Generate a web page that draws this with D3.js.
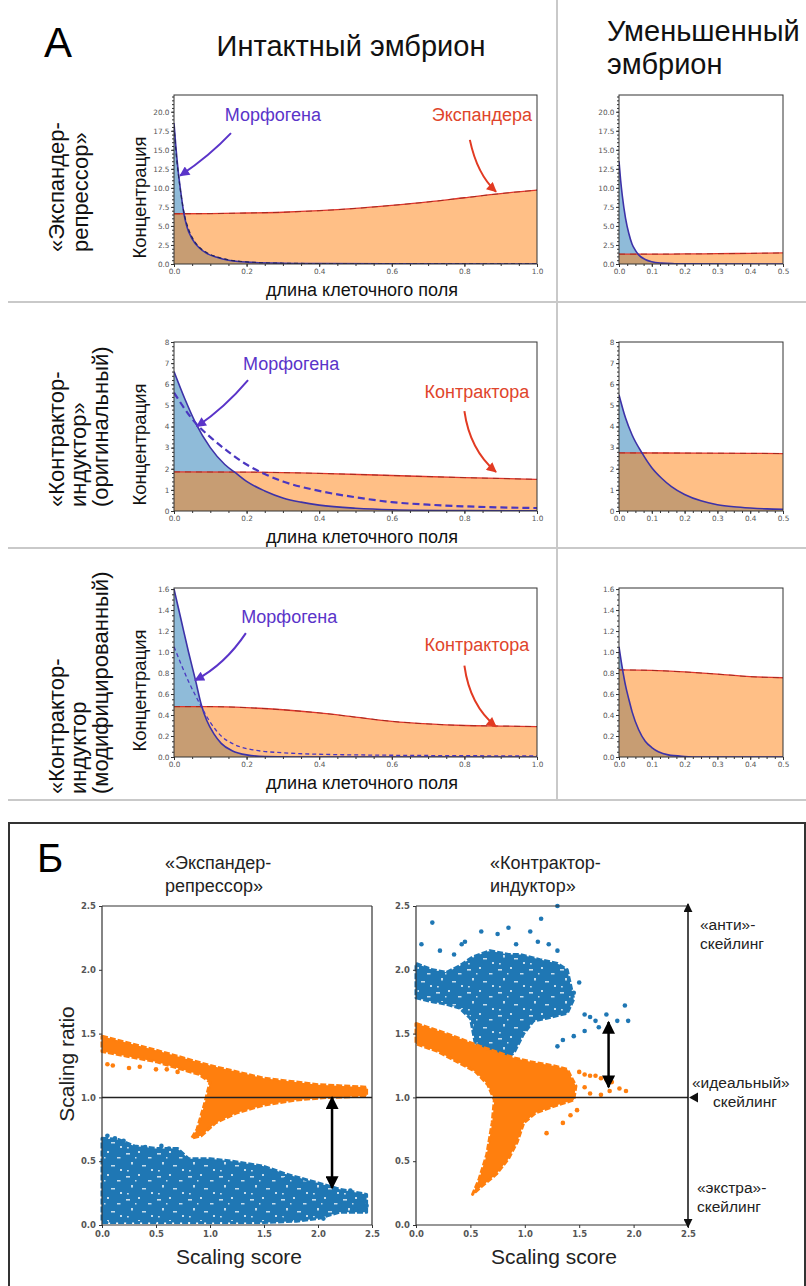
<!DOCTYPE html>
<html><head><meta charset="utf-8">
<script src="https://cdn.jsdelivr.net/npm/d3@7"></script>
<style>body{margin:0;background:#fff}</style>
</head><body>
<script>
// ---------------- DATA ----------------
// Panel A, row 1 ("Экспандер-репрессор"), intact embryo
const er1Morph = [[0,18.5],[0.005,15.5],[0.012,12],[0.02,9],[0.027,6.7],[0.035,5],[0.05,3.3],[0.07,2.1],[0.09,1.4],[0.12,0.85],[0.15,0.5],[0.2,0.25],[0.3,0.1],[0.4,0.05],[0.6,0.02],[1.0,0]];
const er1MorphDash = [[0,18.2],[0.005,15],[0.012,11.8],[0.02,8.9],[0.03,6.2],[0.04,4.6],[0.05,3.5],[0.07,2.2],[0.09,1.5],[0.12,0.9],[0.15,0.55],[0.2,0.28],[0.3,0.1],[0.5,0.03],[1.0,0.01]];
const er1Exp = [[0,6.6],[0.1,6.62],[0.2,6.7],[0.3,6.8],[0.4,7.0],[0.5,7.3],[0.6,7.7],[0.7,8.15],[0.8,8.7],[0.9,9.25],[1.0,9.7]];
// row 1, reduced embryo
const er2Morph = [[0,13.5],[0.005,11],[0.01,9],[0.02,6],[0.03,4],[0.04,2.6],[0.05,1.8],[0.06,1.2],[0.08,0.6],[0.1,0.3],[0.13,0.12],[0.17,0.04],[0.2,0.01],[0.5,0]];
const er2Exp = [[0,1.3],[0.1,1.3],[0.2,1.32],[0.3,1.35],[0.4,1.4],[0.5,1.45]];
// row 2 ("Контрактор-индуктор", original)
const ci1Morph = [[0,6.6],[0.03,5.3],[0.06,4.15],[0.1,3.0],[0.14,2.2],[0.17,1.8],[0.2,1.4],[0.25,0.95],[0.3,0.62],[0.35,0.42],[0.4,0.28],[0.5,0.13],[0.6,0.06],[0.8,0.02],[1.0,0.01]];
const ci1MorphDash = [[0,5.6],[0.06,4.15],[0.1,3.5],[0.15,2.8],[0.2,2.2],[0.25,1.75],[0.3,1.4],[0.4,0.95],[0.5,0.65],[0.6,0.42],[0.7,0.3],[0.8,0.22],[0.9,0.17],[1.0,0.14]];
const ci1Con = [[0,1.85],[0.2,1.84],[0.4,1.78],[0.6,1.68],[0.8,1.58],[1.0,1.5]];
const ci2Morph = [[0,5.5],[0.02,4.4],[0.04,3.6],[0.07,2.75],[0.1,2.05],[0.13,1.55],[0.16,1.15],[0.2,0.78],[0.25,0.48],[0.3,0.3],[0.35,0.2],[0.4,0.14],[0.45,0.1],[0.5,0.08]];
const ci2Con = [[0,2.75],[0.25,2.74],[0.5,2.72]];
// row 3 ("Контрактор-индуктор", modified)
const cm1Morph = [[0,1.6],[0.02,1.3],[0.04,1.0],[0.06,0.72],[0.075,0.5],[0.09,0.35],[0.11,0.22],[0.13,0.13],[0.16,0.06],[0.2,0.02],[0.25,0.005],[0.4,0],[1.0,0]];
const cm1MorphDash = [[0,1.05],[0.02,0.88],[0.04,0.72],[0.06,0.58],[0.075,0.48],[0.1,0.33],[0.13,0.2],[0.16,0.13],[0.2,0.08],[0.3,0.04],[0.5,0.02],[1.0,0.01]];
const cm1Con = [[0,0.48],[0.1,0.48],[0.2,0.47],[0.3,0.45],[0.4,0.42],[0.5,0.38],[0.6,0.34],[0.7,0.315],[0.8,0.3],[0.9,0.295],[1.0,0.29]];
const cm2Morph = [[0,1.05],[0.01,0.85],[0.02,0.68],[0.03,0.55],[0.04,0.43],[0.06,0.26],[0.08,0.15],[0.1,0.09],[0.12,0.05],[0.15,0.02],[0.2,0.005],[0.25,0],[0.5,0]];
const cm2Con = [[0,0.83],[0.1,0.825],[0.2,0.81],[0.3,0.79],[0.4,0.765],[0.5,0.755]];

// tick values
const yTicksRow1 = [0,2.5,5,7.5,10,12.5,15,17.5,20];
const yTicksRow2 = [0,1,2,3,4,5,6,7,8];
const yTicksRow3 = [0,0.2,0.4,0.6,0.8,1.0,1.2,1.4,1.6];
const xTicksIntact = [0,0.2,0.4,0.6,0.8,1.0];
const xTicksReduced = [0,0.1,0.2,0.3,0.4,0.5];
const scoreTicks = [0,0.5,1.0,1.5,2.0,2.5];

// text
const rowLabels = [["«Экспандер-","репрессор»"],["«Контрактор-","индуктор»","(оригинальный)"],["«Контрактор-","индуктор","(модифицированный)"]];
const annMorph = "Морфогена";
const annInhib = ["Экспандера","Контрактора","Контрактора"];
// annotation anchors in data units: [textX,textY, arrowStartX,Y, ctrlX,Y, tipX,Y]
const annMorphPos = [[0.14,18.8,0.157,17.2,0.1,14.3,0.017,11.6],[0.19,6.67,0.204,6.2,0.14,4.9,0.063,4.0],[0.185,1.28,0.198,1.18,0.14,0.88,0.058,0.73]];
const annInhibPos = [[0.71,18.8,0.815,16.3,0.835,11.8,0.887,9.5],[0.69,5.35,0.80,4.73,0.815,2.9,0.887,1.85],[0.69,1.01,0.80,0.87,0.815,0.49,0.887,0.29]];

// Panel Б: scatter clouds (outlines of dense regions + sparse points), data units
const erOrangeCloud = [[0,1.48],[0.5,1.37],[1.0,1.25],[1.5,1.15],[2.0,1.1],[2.45,1.08],[2.45,1.01],[2.1,1.0],[1.8,0.98],[1.5,0.94],[1.25,0.88],[1.05,0.8],[0.92,0.7],[0.83,0.68],[0.88,0.75],[0.95,0.95],[1.0,1.12],[0.9,1.18],[0.5,1.28],[0,1.36]];
const erOrangeDots = [[0.05,1.26],[0.1,1.25],[0.25,1.23],[0.35,1.24],[0.5,1.22],[0.6,1.22],[0.7,1.2],[2.4,1.04],[2.3,1.06]];
const erBlueCloud = [[0,0.68],[0.15,0.67],[0.3,0.62],[0.5,0.6],[0.7,0.6],[0.8,0.52],[1.0,0.52],[1.2,0.5],[1.5,0.46],[1.7,0.4],[2.0,0.33],[2.2,0.28],[2.45,0.24],[2.45,0.1],[2.2,0.1],[2.0,0.05],[1.8,0.03],[1.5,0.02],[0,0.02]];
const erBlueDots = [[0.05,0.7],[0.12,0.68],[0.2,0.66],[0.4,0.61],[0.55,0.62],[0.62,0.6],[1.55,0.38],[1.7,0.36],[1.85,0.31],[2.3,0.27],[2.4,0.2],[2.45,0.15],[2.35,0.12],[2.2,0.15],[2.05,0.05],[1.65,0.06]];
const ciBlueCloud = [[0,2.05],[0.15,2.0],[0.28,1.98],[0.4,2.03],[0.52,2.1],[0.68,2.15],[0.85,2.12],[0.96,2.12],[1.14,2.08],[1.3,2.05],[1.39,2.0],[1.45,1.77],[1.39,1.66],[1.2,1.62],[1.08,1.6],[0.99,1.5],[0.9,1.35],[0.77,1.27],[0.7,1.12],[0.62,1.2],[0.55,1.4],[0.5,1.62],[0.4,1.7],[0.28,1.73],[0.15,1.75],[0,1.78]];
const ciBlueDots = [[0.15,2.37],[0.05,2.2],[0.45,2.22],[0.35,2.12],[0.6,2.3],[0.75,2.28],[0.85,2.33],[0.92,2.2],[1.05,2.3],[1.15,2.4],[1.3,2.5],[1.12,2.22],[1.22,2.2],[1.3,2.15],[1.5,1.9],[1.45,1.82],[1.55,1.65],[1.6,1.63],[1.65,1.6],[1.75,1.65],[1.85,1.6],[1.92,1.72],[1.95,1.6],[1.68,1.55],[1.55,1.52],[1.45,1.48],[1.35,1.45],[1.3,1.4],[0.22,2.15],[0.42,2.2]];
const ciOrangeCloud = [[0,1.58],[0.28,1.5],[0.59,1.4],[0.9,1.31],[1.05,1.28],[1.25,1.25],[1.39,1.22],[1.47,1.09],[1.45,0.98],[1.3,0.94],[1.1,0.88],[0.99,0.8],[0.93,0.65],[0.85,0.52],[0.74,0.4],[0.6,0.3],[0.52,0.24],[0.58,0.36],[0.65,0.55],[0.7,0.8],[0.72,0.98],[0.66,1.1],[0.55,1.2],[0.4,1.27],[0.2,1.36],[0,1.42]];
const ciOrangeDots = [[1.5,1.2],[1.55,1.18],[1.6,1.17],[1.65,1.17],[1.7,1.15],[1.75,1.14],[1.8,1.12],[1.6,1.03],[1.7,1.02],[1.78,1.05],[1.87,1.07],[1.93,1.05],[1.55,1.08],[1.48,0.9],[1.35,0.8],[1.2,0.72],[1.42,0.86]];
const erArrow = [2.13,1.0,0.29];
const ciArrow = [1.77,1.59,1.08];

// ---------------- DRAW ----------------
const svg = d3.select('body').append('svg').attr('width',806).attr('height',1286)
  .style('font-family','"Liberation Sans", Arial, sans-serif');
const defs = svg.append('defs');
function marker(id,color,w,h){
  defs.append('marker').attr('id',id).attr('viewBox','0 0 10 10').attr('refX',9).attr('refY',5)
    .attr('markerWidth',w).attr('markerHeight',h).attr('markerUnits','userSpaceOnUse')
    .attr('orient','auto-start-reverse').append('path').attr('d','M0,0 L10,5 L0,10 z').attr('fill',color);
}
marker('mPurple','#5a34c9',11,10);
marker('mRed','#e23a22',11,10);
marker('mBlack','#000',14,13);
marker('mThin','#111',9,9);

// speckle texture for dense scatter clouds (styling only)
function speckle(id,col,w,h,holes){
  const p = defs.append('pattern').attr('id',id).attr('patternUnits','userSpaceOnUse').attr('width',w).attr('height',h);
  p.append('rect').attr('width',w).attr('height',h).attr('fill',col);
  holes.forEach(q=>p.append('rect').attr('x',q[0]).attr('y',q[1]).attr('width',q[2]).attr('height',q[3]).attr('fill','#fff').attr('fill-opacity',0.75));
}
speckle('spBlue','#1f77b4',31,23,[[2,3,4,1.6],[14,1,2,2],[24,7,3.5,1.5],[7,12,2,2.5],[18,15,4,1.5],[27,19,2,2],[3,20,1.8,1.5],[11,7,1.5,1.5]]);

const grey = '#c9c9c9';
// separators
[302,548,800].forEach(yy=>svg.append('line').attr('x1',8).attr('x2',806).attr('y1',yy).attr('y2',yy).attr('stroke',grey).attr('stroke-width',2));
svg.append('line').attr('x1',557).attr('x2',557).attr('y1',0).attr('y2',800).attr('stroke',grey).attr('stroke-width',2);

svg.append('text').attr('x',44).attr('y',57).attr('font-size',42).text('A');
svg.append('text').attr('x',351).attr('y',56).attr('text-anchor','middle').attr('font-size',29).attr('fill','#111').text('Интактный эмбрион');
svg.append('text').attr('x',607).attr('y',41).attr('font-size',29).attr('fill','#111').text('Уменьшенный');
svg.append('text').attr('x',607).attr('y',74).attr('font-size',29).attr('fill','#111').text('эмбрион');

const rows = [
  {y0:95,y1:264,yd:[0,22.2],yt:yTicksRow1,fmt:d3.format('.1f'),minor:0.5,
   intact:{morph:er1Morph,dash:er1MorphDash,dashStyle:{c:'#23235c',w:1.2,d:'4,3'},inh:er1Exp},
   reduced:{morph:er2Morph,inh:er2Exp}},
  {y0:342,y1:511,yd:[0,8],yt:yTicksRow2,fmt:d3.format('d'),minor:0.2,
   intact:{morph:ci1Morph,dash:ci1MorphDash,dashStyle:{c:'#4a36c0',w:2.2,d:'7,4'},inh:ci1Con},
   reduced:{morph:ci2Morph,inh:ci2Con}},
  {y0:588,y1:757,yd:[0,1.61],yt:yTicksRow3,fmt:d3.format('.1f'),minor:0.05,
   intact:{morph:cm1Morph,dash:cm1MorphDash,dashStyle:{c:'#4a36c0',w:1.3,d:'4,3'},inh:cm1Con},
   reduced:{morph:cm2Morph,inh:cm2Con}}
];

function panel(r, d, xd, x0, x1, xt, xminor){
  const x = d3.scaleLinear().domain(xd).range([x0,x1]);
  const y = d3.scaleLinear().domain(r.yd).range([r.y1,r.y0]);
  const g = svg.append('g');
  const clipId = 'c'+Math.round(x0)+'_'+r.y0;
  defs.append('clipPath').attr('id',clipId).append('rect').attr('x',x0).attr('y',r.y0).attr('width',x1-x0).attr('height',r.y1-r.y0);
  const pg = g.append('g').attr('clip-path',`url(#${clipId})`);
  const area = d3.area().x(p=>x(p[0])).y0(y(0)).y1(p=>y(p[1])).curve(d3.curveMonotoneX);
  const line = d3.line().x(p=>x(p[0])).y(p=>y(p[1])).curve(d3.curveMonotoneX);
  pg.append('path').attr('d',area(d.morph)).attr('fill','#1f77b4').attr('fill-opacity',0.5);
  pg.append('path').attr('d',area(d.inh)).attr('fill','#ff7f0e').attr('fill-opacity',0.5);
  pg.append('path').attr('d',line(d.inh)).attr('fill','none').attr('stroke','#e0352b').attr('stroke-width',1.3);
  pg.append('path').attr('d',line(d.inh)).attr('fill','none').attr('stroke','#8a2418').attr('stroke-width',0.7).attr('stroke-dasharray','6,5');
  pg.append('path').attr('d',line(d.morph)).attr('fill','none').attr('stroke','#3d32a8').attr('stroke-width',1.6);
  if(d.dash) pg.append('path').attr('d',line(d.dash)).attr('fill','none').attr('stroke',d.dashStyle.c).attr('stroke-width',d.dashStyle.w).attr('stroke-dasharray',d.dashStyle.d);
  // axes
  const tickStyle = s=>s.attr('font-family','"DejaVu Sans", sans-serif').attr('font-size',7.3).attr('fill','#555');
  const ya = g.append('g').attr('transform',`translate(${x0},0)`).call(d3.axisLeft(y).tickValues(r.yt).tickFormat(r.fmt).tickSize(3).tickPadding(1.5));
  const yminor = g.append('g').attr('transform',`translate(${x0},0)`).call(d3.axisLeft(y).tickValues(d3.range(r.yd[0],r.yd[1],r.minor)).tickFormat('').tickSize(2));
  const xa = g.append('g').attr('transform',`translate(0,${r.y1})`).call(d3.axisBottom(x).tickValues(xt).tickFormat(d3.format('.1f')).tickSize(3).tickPadding(2));
  const xminorA = g.append('g').attr('transform',`translate(0,${r.y1})`).call(d3.axisBottom(x).tickValues(d3.range(xd[0],xd[1]+1e-9,xminor)).tickFormat('').tickSize(2));
  [ya,yminor,xa,xminorA].forEach(a=>{a.select('.domain').remove(); a.selectAll('line').attr('stroke','#333'); tickStyle(a.selectAll('text'));});
  g.append('rect').attr('x',x0).attr('y',r.y0).attr('width',x1-x0).attr('height',r.y1-r.y0).attr('fill','none').attr('stroke','#333').attr('stroke-width',1);
  return {x,y,g};
}

rows.forEach((r,i)=>{
  const P = panel(r, r.intact, [0,1], 174, 537, xTicksIntact, 0.05);
  panel(r, r.reduced, [0,0.5], 619, 783, xTicksReduced, 0.025);
  // y label
  const cy = (r.y0+r.y1)/2 + 18;
  svg.append('text').attr('transform',`translate(146,${cy}) rotate(-90)`).attr('text-anchor','middle').attr('font-size',18.5).attr('fill','#111').text('Концентрация');
  svg.append('text').attr('x',362).attr('y',r.y1+32).attr('text-anchor','middle').attr('font-size',18).attr('fill','#111').text('длина клеточного поля');
  // row labels
  const bases = i===0 ? [64,88] : [64,86,108];
  const bottom = [252,507,794][i];
  rowLabels[i].forEach((t,k)=>{
    svg.append('text').attr('transform',`translate(${bases[k]},${bottom}) rotate(-90)`).attr('font-size',22).attr('fill','#111').text(t);
  });
  // annotations
  const am = annMorphPos[i], ai = annInhibPos[i];
  svg.append('text').attr('x',P.x(am[0])).attr('y',P.y(am[1])).attr('font-size',18).attr('fill','#5a34c9').text(annMorph);
  svg.append('path').attr('d',`M${P.x(am[2])},${P.y(am[3])} Q${P.x(am[4])},${P.y(am[5])} ${P.x(am[6])},${P.y(am[7])}`)
    .attr('fill','none').attr('stroke','#5a34c9').attr('stroke-width',2).attr('marker-end','url(#mPurple)');
  svg.append('text').attr('x',P.x(ai[0])).attr('y',P.y(ai[1])).attr('font-size',18).attr('fill','#e0452b').text(annInhib[i]);
  svg.append('path').attr('d',`M${P.x(ai[2])},${P.y(ai[3])} Q${P.x(ai[4])},${P.y(ai[5])} ${P.x(ai[6])},${P.y(ai[7])}`)
    .attr('fill','none').attr('stroke','#e23a22').attr('stroke-width',2).attr('marker-end','url(#mRed)');
});

// ---------------- PANEL Б ----------------
svg.append('rect').attr('x',9).attr('y',823).attr('width',796).attr('height',480).attr('fill','none').attr('stroke','#333').attr('stroke-width',2);
svg.append('text').attr('x',37).attr('y',872).attr('font-size',40).text('Б');

const by = d3.scaleLinear().domain([0,2.5]).range([1225,906]);
const bxL = d3.scaleLinear().domain([0,2.5]).range([102,372]);
const bxR = d3.scaleLinear().domain([0,2.5]).range([416,688]);

function scatterPanel(x, clouds, dots, full){
  const g = svg.append('g');
  const poly = d3.line().x(p=>x(p[0])).y(p=>by(p[1])).curve(d3.curveLinearClosed);
  clouds.forEach(c=>{
    g.append('path').attr('d',poly(c.pts)).attr('fill',c.fill).attr('stroke',c.col).attr('stroke-width',3).attr('stroke-linejoin','round').attr('stroke-dasharray','6,2');
  });
  dots.forEach(dd=>{
    g.selectAll(null).data(dd.pts).enter().append('circle').attr('cx',p=>x(p[0])).attr('cy',p=>by(p[1])).attr('r',2.3).attr('fill',dd.col);
  });
  const ax = g.append('g').attr('transform',`translate(0,${by(0)})`).call(d3.axisBottom(x).tickValues(scoreTicks).tickFormat(d3.format('.1f')).tickSize(3).tickPadding(3));
  const ay = g.append('g').attr('transform',`translate(${x(0)},0)`).call(d3.axisLeft(by).tickValues(scoreTicks).tickFormat(d3.format('.1f')).tickSize(3).tickPadding(3));
  [ax,ay].forEach(a=>{a.select('.domain').attr('stroke','#333').attr('stroke-width',1.2); a.selectAll('line').attr('stroke','#333');
    a.selectAll('text').attr('font-family','"DejaVu Sans", sans-serif').attr('font-size',8.5).attr('font-weight','bold').attr('fill','#555');});
  ax.select('.domain').attr('d',`M${x(0)},0H${x(2.5)}`);
  ay.select('.domain').attr('d',`M0,${by(0)}V${by(2.5)}`);
  g.append('line').attr('x1',x(0)).attr('x2',x(2.5)).attr('y1',by(2.5)).attr('y2',by(2.5)).attr('stroke','#333').attr('stroke-width',1.2);
  if(full) g.append('line').attr('x1',x(2.5)).attr('x2',x(2.5)).attr('y1',by(2.5)).attr('y2',by(0)).attr('stroke','#333').attr('stroke-width',1.2);
  g.append('line').attr('x1',x(0)).attr('x2',x(2.5)).attr('y1',by(1)).attr('y2',by(1)).attr('stroke','#222').attr('stroke-width',1.5);
  svg.append('text').attr('x',(x(0)+x(2.5))/2+2).attr('y',1264).attr('text-anchor','middle').attr('font-size',21).attr('fill','#222').text('Scaling score');
  return g;
}
scatterPanel(bxL,[{pts:erBlueCloud,col:'#1f77b4',fill:'url(#spBlue)'},{pts:erOrangeCloud,col:'#ff7f0e',fill:'#ff7f0e'}],[{pts:erBlueDots,col:'#1f77b4'},{pts:erOrangeDots,col:'#ff7f0e'}],true);
scatterPanel(bxR,[{pts:ciBlueCloud,col:'#1f77b4',fill:'url(#spBlue)'},{pts:ciOrangeCloud,col:'#ff7f0e',fill:'#ff7f0e'}],[{pts:ciBlueDots,col:'#1f77b4'},{pts:ciOrangeDots,col:'#ff7f0e'}],false);

svg.append('text').attr('transform',`translate(74,${1064}) rotate(-90)`).attr('text-anchor','middle').attr('font-size',21).attr('fill','#222').text('Scaling ratio');

// double arrows
svg.append('line').attr('x1',bxL(erArrow[0])).attr('x2',bxL(erArrow[0])).attr('y1',by(erArrow[1])).attr('y2',by(erArrow[2]))
  .attr('stroke','#000').attr('stroke-width',2.5).attr('marker-start','url(#mBlack)').attr('marker-end','url(#mBlack)');
svg.append('line').attr('x1',bxR(ciArrow[0])).attr('x2',bxR(ciArrow[0])).attr('y1',by(ciArrow[1])).attr('y2',by(ciArrow[2]))
  .attr('stroke','#000').attr('stroke-width',2.5).attr('marker-start','url(#mBlack)').attr('marker-end','url(#mBlack)');
// right spine arrow
svg.append('line').attr('x1',bxR(2.5)).attr('x2',bxR(2.5)).attr('y1',by(0)+2).attr('y2',by(2.5)-2)
  .attr('stroke','#111').attr('stroke-width',1.5).attr('marker-start','url(#mThin)').attr('marker-end','url(#mThin)');
svg.append('path').attr('d',`M${bxR(2.5)+1},${by(1)} L${bxR(2.5)+10},${by(1)-5} L${bxR(2.5)+10},${by(1)+5} Z`).attr('fill','#111');

// titles
[['«Экспандер-','репрессор»',165],['«Контрактор-','индуктор»',490]].forEach(t=>{
  svg.append('text').attr('x',t[2]).attr('y',869).attr('font-size',18).attr('fill','#222').text(t[0]);
  svg.append('text').attr('x',t[2]).attr('y',892).attr('font-size',18).attr('fill','#222').text(t[1]);
});
const sideLabels = [['«анти»-',700,930],['скейлинг',700,949],['«идеальный»',692,1088],['скейлинг',713,1107],['«экстра»-',697,1193],['скейлинг',697,1212]];
sideLabels.forEach(s=>svg.append('text').attr('x',s[1]).attr('y',s[2]).attr('font-size',15.5).attr('fill','#222').text(s[0]));
</script>
</body></html>
